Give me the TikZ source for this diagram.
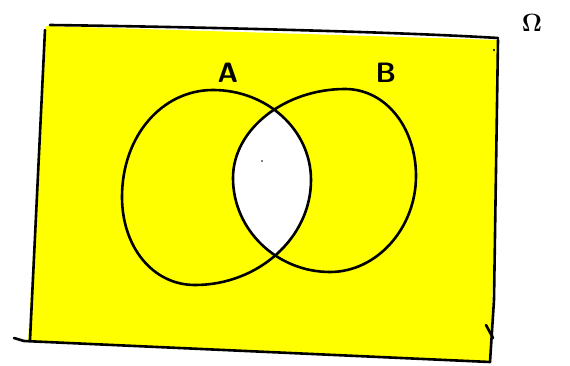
\documentclass[tikz,border=0pt]{standalone}
\begin{document}
\begin{tikzpicture}[x=1pt,y=-1pt,
  ink/.style={draw=black,line width=2.6pt,line cap=round,line join=round},
  lbl/.style={font=\fontsize{28}{28}\selectfont\sffamily\bfseries,inner sep=0pt}]
\definecolor{hy}{RGB}{255,255,0}
\useasboundingbox (0,0) rectangle (570,366);
% corners of the sample space
\coordinate (tl) at (46,26);
\coordinate (tr) at (498,40);
\coordinate (br) at (491,362);
\coordinate (bl) at (28,341);
\def\circA{(122,197) .. controls (122,136) and (162,90) .. (213,90)
  .. controls (267,90) and (311,130) .. (311,180)
  .. controls (311,238) and (258,285) .. (195,285)
  .. controls (152,285) and (122,246) .. cycle}
\def\circB{(233,178) .. controls (233,129) and (285,89) .. (345,89)
  .. controls (386,89) and (416,128) .. (416,176)
  .. controls (416,228) and (377,272) .. (330,272)
  .. controls (277,272) and (233,230) .. cycle}
% yellow fill
\fill[hy] (tl) -- (tr) -- (br) -- (bl) -- cycle;
% intersection white
\begin{scope}
  \clip \circA;
  \fill[white] \circB;
\end{scope}
% rectangle outline (hand drawn)
\draw[ink] (50,25) .. controls (200,27) and (400,32) .. (498,38);
\draw[ink] (45,30) -- (30,340);
\draw[ink] (498,40) -- (494,300) -- (490,362);
\draw[ink] (486,325) -- (493,338);
\draw[ink] (14,338) -- (24,341) -- (490,362);
% circles
\draw[ink] \circA;
\draw[ink] \circB;
\fill (262,161) circle (0.9);
\fill (494,50) circle (1.1);
% labels
\node[lbl] (A) at (228,73) {A};
\node[lbl] (B) at (386,73) {B};
\node[lbl] (Om) at (532,23) {$\mathbf{\Omega}$};
\end{tikzpicture}
\end{document}
